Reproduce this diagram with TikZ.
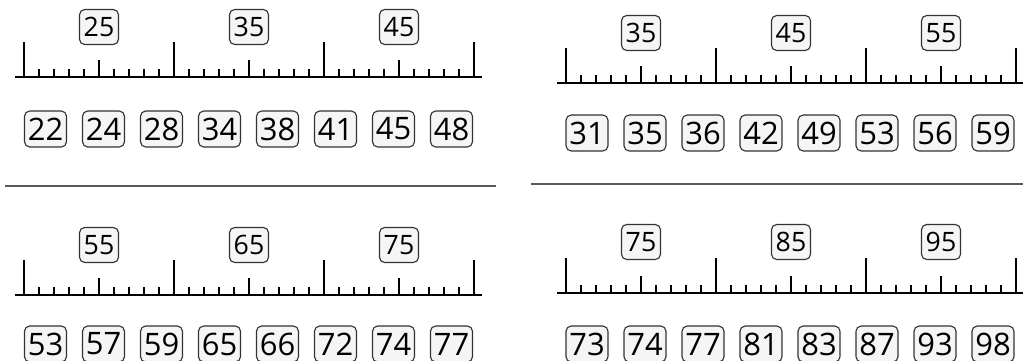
\documentclass[tikz,border=0pt]{standalone}
\usepackage{fontspec}
\setmainfont{Open Sans}

\begin{document}
\begin{tikzpicture}[
    x=0.25mm,y=-0.25mm,
    axis/.style={line width=1.4pt},
    tick/.style={line width=1.3pt},
    tag/.style={draw=black!80,fill=black!4,rounded corners=1.3mm,line width=0.8pt,inner sep=0pt,minimum width=9.75mm,minimum height=8.75mm,font=\fontsize{19}{19}\selectfont},
    card/.style={tag,minimum width=10.5mm,minimum height=9mm,font=\fontsize{22}{22}\selectfont},
    sep/.style={line width=1.1pt,black!65}
]
\path[use as bounding box,clip] (0,0) rectangle (1023,361);

%%% Top left: number line 20..50
\begin{scope}[shift={(24,77)}]
\draw[axis] (-9,0) -- (458,0);
% ticks: ones, fives, tens
\foreach \i in {0,...,30} \draw[tick] (\i*15,0) -- ++(0,-8);
\foreach \i in {5,15,25} \draw[tick] (\i*15,0) -- ++(0,-17);
\foreach \i in {0,10,20,30} \draw[tick] (\i*15,0) -- ++(0,-35);
\node[tag] (tl-l25) at (75,-50) {25};
\node[tag] (tl-l35) at (225,-50) {35};
\node[tag] (tl-l45) at (375,-50) {45};
% numbers to place
\foreach \v [count=\k from 0] in {22,24,28,34,38,41,45,48}
  \node[card] (tl-c\v) at (21.5+58*\k,52) {\v};
\end{scope}

%%% Top right: number line 30..60
\begin{scope}[shift={(566,83)}]
\draw[axis] (-9,0) -- (458,0);
\foreach \i in {0,...,30} \draw[tick] (\i*15,0) -- ++(0,-8);
\foreach \i in {5,15,25} \draw[tick] (\i*15,0) -- ++(0,-17);
\foreach \i in {0,10,20,30} \draw[tick] (\i*15,0) -- ++(0,-35);
\node[tag] (tr-l35) at (75,-50) {35};
\node[tag] (tr-l45) at (225,-50) {45};
\node[tag] (tr-l55) at (375,-50) {55};
\foreach \v [count=\k from 0] in {31,35,36,42,49,53,56,59}
  \node[card] (tr-c\v) at (21+58*\k,50) {\v};
\end{scope}

% separators
\coordinate (sl-a) at (5,186);
\coordinate (sl-b) at (496,186);
\coordinate (sr-a) at (531,184);
\coordinate (sr-b) at (1030,184);
\draw[sep] (sl-a) -- (sl-b);
\draw[sep] (sr-a) -- (sr-b);

%%% Bottom left: number line 50..80
\begin{scope}[shift={(24,295)}]
\draw[axis] (-9,0) -- (458,0);
\foreach \i in {0,...,30} \draw[tick] (\i*15,0) -- ++(0,-8);
\foreach \i in {5,15,25} \draw[tick] (\i*15,0) -- ++(0,-17);
\foreach \i in {0,10,20,30} \draw[tick] (\i*15,0) -- ++(0,-35);
\node[tag] (bl-l55) at (75,-50) {55};
\node[tag] (bl-l65) at (225,-50) {65};
\node[tag] (bl-l75) at (375,-50) {75};
\foreach \v [count=\k from 0] in {53,57,59,65,66,72,74,77}
  \node[card] (bl-c\v) at (21.5+58*\k,49) {\v};
\end{scope}

%%% Bottom right: number line 70..100
\begin{scope}[shift={(566,293)}]
\draw[axis] (-9,0) -- (458,0);
\foreach \i in {0,...,30} \draw[tick] (\i*15,0) -- ++(0,-8);
\foreach \i in {5,15,25} \draw[tick] (\i*15,0) -- ++(0,-17);
\foreach \i in {0,10,20,30} \draw[tick] (\i*15,0) -- ++(0,-35);
\node[tag] (br-l75) at (75,-51) {75};
\node[tag] (br-l85) at (225,-51) {85};
\node[tag] (br-l95) at (375,-51) {95};
\foreach \v [count=\k from 0] in {73,74,77,81,83,87,93,98}
  \node[card] (br-c\v) at (21+58*\k,51) {\v};
\end{scope}
\end{tikzpicture}
\end{document}
